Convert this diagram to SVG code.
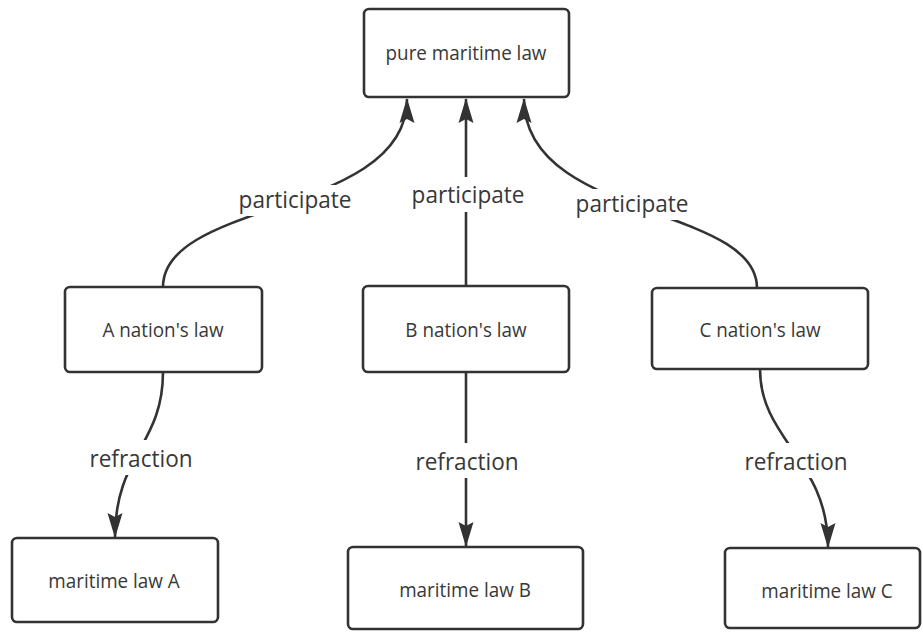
<svg xmlns="http://www.w3.org/2000/svg" width="923" height="632" viewBox="0 0 923 632">
<defs>
<marker id="arr" markerUnits="userSpaceOnUse" markerWidth="26" markerHeight="16" viewBox="0 0 26 16" refX="24" refY="8" orient="auto">
<path d="M0,0.5 L25,8 L0,15.5 L4,8 Z" fill="#333"/>
</marker>
<style>
.box{fill:#fff;stroke:#333;stroke-width:2.6}
.nt{font-family:"Open Sans","Noto Sans",sans-serif;font-size:20.5px;fill:#383838;text-anchor:middle}
.lt{font-family:"Open Sans","Noto Sans",sans-serif;font-size:24px;fill:#383838;text-anchor:middle}
.ln{fill:none;stroke:#333;stroke-width:2.6;marker-end:url(#arr)}
.bg{fill:#fff}
</style>
</defs>
<rect width="923" height="632" fill="#fff"/>
<g id="connectors">
<path class="ln" d="M163,287 C163,200 407,215 407,99"/>
<path class="ln" d="M466,286 L466,99"/>
<path class="ln" d="M757,288 C757,205 524,220 524,99"/>
<path class="ln" d="M163,372 C163,445 115,455 115,537"/>
<path class="ln" d="M466,372 L466,546"/>
<path class="ln" d="M760,369 C760,440 828,460 828,547"/>
<rect class="bg" x="236" y="185" width="118" height="31"/>
<text class="lt" transform="translate(295,208) scale(0.94,1)">participate</text>
<rect class="bg" x="408" y="177" width="120" height="35"/>
<text class="lt" transform="translate(468,203) scale(0.94,1)">participate</text>
<rect class="bg" x="574" y="189" width="116" height="31"/>
<text class="lt" transform="translate(632,212) scale(0.94,1)">participate</text>
<rect class="bg" x="88" y="440" width="106" height="35"/>
<text class="lt" transform="translate(141,467) scale(0.94,1)">refraction</text>
<rect class="bg" x="414" y="443" width="106" height="35"/>
<text class="lt" transform="translate(467,470) scale(0.94,1)">refraction</text>
<rect class="bg" x="742" y="443" width="108" height="35"/>
<text class="lt" transform="translate(796,470) scale(0.94,1)">refraction</text>
</g>
<g id="pure">
<rect class="box" x="364" y="9" width="205" height="88" rx="5"/>
<text class="nt" transform="translate(466,60) scale(0.92,1)">pure maritime law</text>
</g>
<g id="nationA">
<rect class="box" x="65" y="287" width="197" height="85" rx="5"/>
<text class="nt" transform="translate(163,337) scale(0.92,1)">A nation's law</text>
</g>
<g id="nationB">
<rect class="box" x="363" y="286" width="206" height="86" rx="5"/>
<text class="nt" transform="translate(466,337) scale(0.92,1)">B nation's law</text>
</g>
<g id="nationC">
<rect class="box" x="652" y="288" width="216" height="81" rx="5"/>
<text class="nt" transform="translate(760,337) scale(0.92,1)">C nation's law</text>
</g>
<g id="lawA">
<rect class="box" x="12" y="538" width="206" height="84" rx="5"/>
<text class="nt" transform="translate(114,588) scale(0.92,1)">maritime law A</text>
</g>
<g id="lawB">
<rect class="box" x="348" y="547" width="235" height="82" rx="5"/>
<text class="nt" transform="translate(465,597) scale(0.92,1)">maritime law B</text>
</g>
<g id="lawC">
<rect class="box" x="725" y="548" width="195" height="80" rx="5"/>
<text class="nt" transform="translate(827,598) scale(0.92,1)">maritime law C</text>
</g>
</svg>
